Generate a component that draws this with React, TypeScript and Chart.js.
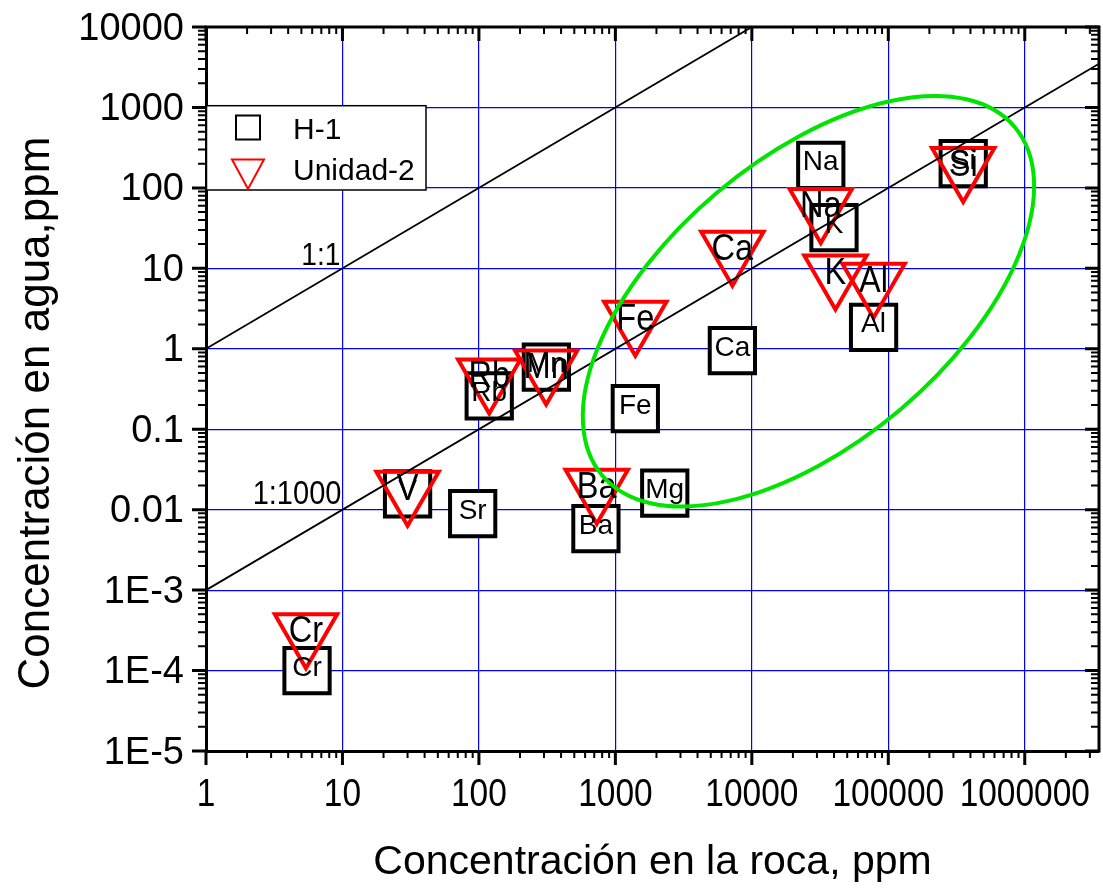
import React, { useEffect, useRef } from 'react';
import { Chart, registerables } from 'chart.js';

Chart.register(...registerables);

// ---------------- data ----------------
const elementsH1 = ['Cr', 'V', 'Sr', 'Rb', 'Mn', 'Ba', 'Fe', 'Mg', 'Ca', 'Na', 'K', 'Al', 'Si'];
const rockH1 = [5.5, 30, 90, 119, 312, 720, 1400, 2300, 7200, 32000, 40000, 78000, 354000];
const waterH1 = [1e-4, 0.0157, 0.0089, 0.26, 0.59, 0.0058, 0.18, 0.016, 0.95, 190, 32, 1.84, 200];

const elementsU2 = ['Cr', 'V', 'Rb', 'Mn', 'Ba', 'Fe', 'Ca', 'Na', 'K', 'Al', 'Si'];
const rockU2 = [5.4, 30, 119, 311, 730, 1400, 7200, 32000, 41000, 78000, 354000];
const waterU2 = [3.0e-4, 0.0177, 0.44, 0.57, 0.0187, 2.3, 17, 58, 8.6, 6.8, 187];

const line11X = [1, 10000];
const line11Y = [1, 10000];
const line1000X = [1, 3.5e6];
const line1000Y = [0.001, 3500];

const X_MIN = 1;
const X_MAX = 3.5e6;
const Y_MIN = 1e-5;
const Y_MAX = 1e4;

const xTickLabels = ['1', '10', '100', '1000', '10000', '100000', '1000000'];
const yTickLabels = ['1E-5', '1E-4', '1E-3', '0.01', '0.1', '1', '10', '100', '1000', '10000'];

const xTitle = 'Concentración en la roca, ppm';
const yTitle = 'Concentración en agua,ppm';
const lineLabels = ['1:1', '1:1000'];

const ellipseCenter = { x: 26000, y: 3.9 };

// ---------------- helpers ----------------
const FAMILY = '"Liberation Sans", Arial, sans-serif';
const font = (s: number) => `${s}px ${FAMILY}`;

function isPow10(v: any): boolean {
  if (v == null || !(v > 0)) return false;
  const e = Math.round(Math.log10(v));
  return Math.abs(v / Math.pow(10, e) - 1) < 1e-6;
}

function buildLogTicks(min: number, max: number): number[] {
  const out: number[] = [];
  const e0 = Math.floor(Math.log10(min));
  const e1 = Math.ceil(Math.log10(max));
  for (let e = e0; e <= e1; e++) {
    for (let k = 1; k <= 9; k++) {
      const v = e < 0 ? k / Math.pow(10, -e) : k * Math.pow(10, e);
      if (v >= min * (1 - 1e-9) && v <= max * (1 + 1e-9)) out.push(v);
    }
  }
  return out;
}

function labelFor(v: number, labels: string[], min: number): string {
  if (!isPow10(v)) return '';
  const idx = Math.round(Math.log10(v) - Math.log10(min));
  return labels[idx] ?? '';
}

function drawText(ctx: CanvasRenderingContext2D, text: string, x: number, y: number, size: number, squish: number, align: CanvasTextAlign) {
  ctx.save();
  ctx.translate(x, y);
  ctx.scale(squish, 1);
  ctx.font = font(size);
  ctx.textAlign = align;
  ctx.textBaseline = 'alphabetic';
  ctx.fillStyle = '#000';
  ctx.fillText(text, 0, 0);
  ctx.restore();
}

const decorPlugin = {
  id: 'decor',
  afterDatasetsDraw(chart: any) {
    const ctx: CanvasRenderingContext2D = chart.ctx;
    const xs = chart.scales.x;
    const ys = chart.scales.y;
    const ca = chart.chartArea;

    // point labels (squares first, triangles on top)
    [0, 1].forEach((di) => {
      const ds = chart.data.datasets[di];
      ds.data.forEach((p: any, i: number) => {
        const px = xs.getPixelForValue(p.x);
        const py = ys.getPixelForValue(p.y);
        drawText(ctx, ds.elementLabels[i], px, py + ds.labelDy, ds.labelSize, ds.labelSquish, 'center');
      });
    });

    // line labels
    const x10 = xs.getPixelForValue(10);
    drawText(ctx, lineLabels[0], x10 - 2, ys.getPixelForValue(10) - 3, 32, 0.88, 'right');
    drawText(ctx, lineLabels[1], x10 - 1, ys.getPixelForValue(0.01) - 6, 33, 0.88, 'right');

    // green ellipse
    ctx.save();
    ctx.beginPath();
    ctx.rect(ca.left, ca.top, ca.right - ca.left, ca.bottom - ca.top);
    ctx.clip();
    ctx.beginPath();
    ctx.ellipse(xs.getPixelForValue(ellipseCenter.x), ys.getPixelForValue(ellipseCenter.y), 270, 142, -40.2 * Math.PI / 180, 0, Math.PI * 2);
    ctx.strokeStyle = 'rgb(0,228,0)';
    ctx.lineWidth = 4;
    ctx.stroke();
    ctx.restore();
  },
  afterDraw(chart: any) {
    const ctx: CanvasRenderingContext2D = chart.ctx;
    const xs = chart.scales.x;
    const ys = chart.scales.y;
    const ca = chart.chartArea;
    ctx.save();
    ctx.strokeStyle = '#000';
    ctx.lineCap = 'butt';

    // top and right borders
    ctx.lineWidth = 3;
    ctx.beginPath();
    ctx.moveTo(ca.left - 1.5, ca.top);
    ctx.lineTo(ca.right + 1.5, ca.top);
    ctx.moveTo(ca.right, ca.top);
    ctx.lineTo(ca.right, ca.bottom + 1.5);
    ctx.stroke();

    // tick marks
    xs.ticks.forEach((t: any) => {
      const px = xs.getPixelForValue(t.value);
      const major = isPow10(t.value);
      const len = major ? 14 : 7;
      ctx.lineWidth = major ? 3 : 2;
      ctx.beginPath();
      ctx.moveTo(px, ca.bottom);
      ctx.lineTo(px, ca.bottom + len);
      ctx.moveTo(px, ca.top);
      ctx.lineTo(px, ca.top + len);
      ctx.stroke();
    });
    ys.ticks.forEach((t: any) => {
      const py = ys.getPixelForValue(t.value);
      const major = isPow10(t.value);
      const len = major ? 14 : 8;
      ctx.lineWidth = major ? 3 : 2;
      ctx.beginPath();
      ctx.moveTo(ca.left, py);
      ctx.lineTo(ca.left - len, py);
      ctx.moveTo(ca.right, py);
      ctx.lineTo(ca.right - len, py);
      ctx.stroke();
    });
    ctx.restore();

    // tick labels, placed by the scales
    xs.ticks.forEach((t: any) => {
      const lab = labelFor(t.value, xTickLabels, X_MIN);
      if (lab) drawText(ctx, lab, xs.getPixelForValue(t.value), ca.bottom + 55, 38, 0.88, 'center');
    });
    ys.ticks.forEach((t: any) => {
      const lab = labelFor(t.value, yTickLabels, Y_MIN);
      if (lab) drawText(ctx, lab, ca.left - 22, ys.getPixelForValue(t.value) + 12.5, 38, 1, 'right');
    });

    // axis titles
    drawText(ctx, xTitle, (ca.left + ca.right) / 2, 874, 41, 1, 'center');
    ctx.save();
    ctx.translate(48.5, (ca.top + ca.bottom) / 2 + 24);
    ctx.rotate(-Math.PI / 2);
    ctx.font = font(44);
    ctx.textAlign = 'center';
    ctx.textBaseline = 'alphabetic';
    ctx.fillStyle = '#000';
    ctx.fillText(yTitle, 0, 0);
    ctx.restore();

    // legend
    const lx = ca.left + 0.5, ly = 105.7, lw = 219.5, lh = 84.3;
    ctx.save();
    ctx.fillStyle = '#fff';
    ctx.fillRect(lx, ly, lw, lh);
    ctx.strokeStyle = '#000';
    ctx.lineWidth = 1.5;
    ctx.strokeRect(lx, ly, lw, lh);
    ctx.lineWidth = 2;
    ctx.strokeStyle = '#000';
    ctx.strokeRect(236, 115.5, 24, 24);
    ctx.strokeStyle = '#ff0000';
    ctx.beginPath();
    ctx.moveTo(232, 159.5);
    ctx.lineTo(264, 159.5);
    ctx.lineTo(248, 189);
    ctx.closePath();
    ctx.stroke();
    ctx.restore();
    drawText(ctx, chart.data.datasets[0].label, 293, 139, 30, 1, 'left');
    drawText(ctx, chart.data.datasets[1].label, 293, 180, 30, 1, 'left');
  },
};

export default function App() {
  const canvasRef = useRef<HTMLCanvasElement | null>(null);

  useEffect(() => {
    if (!canvasRef.current) return;
    const xTickValues = buildLogTicks(X_MIN, X_MAX);
    const yTickValues = buildLogTicks(Y_MIN, Y_MAX);

    const chart = new Chart(canvasRef.current, {
      type: 'scatter',
      data: {
        datasets: [
          {
            label: 'H-1',
            data: rockH1.map((x, i) => ({ x, y: waterH1[i] })),
            pointStyle: 'rect',
            pointRadius: 32,
            pointHoverRadius: 32,
            borderColor: '#000',
            backgroundColor: '#fff',
            borderWidth: 4,
            order: 4,
            elementLabels: elementsH1,
            labelSize: 28,
            labelSquish: 1,
            labelDy: 5,
          } as any,
          {
            label: 'Unidad-2',
            data: rockU2.map((x, i) => ({ x, y: waterU2[i] })),
            pointStyle: 'triangle',
            rotation: 180,
            pointRadius: 36,
            pointHoverRadius: 36,
            borderColor: '#ff0000',
            backgroundColor: 'rgba(0,0,0,0)',
            borderWidth: 4,
            order: 3,
            elementLabels: elementsU2,
            labelSize: 37,
            labelSquish: 0.88,
            labelDy: 10,
          } as any,
          {
            label: '1:1',
            data: line11X.map((x, i) => ({ x, y: line11Y[i] })),
            showLine: true,
            pointRadius: 0,
            borderColor: '#000',
            borderWidth: 1.8,
            fill: false,
            order: 2,
          } as any,
          {
            label: '1:1000',
            data: line1000X.map((x, i) => ({ x, y: line1000Y[i] })),
            showLine: true,
            pointRadius: 0,
            borderColor: '#000',
            borderWidth: 1.8,
            fill: false,
            order: 1,
          } as any,
        ],
      },
      options: {
        animation: false,
        responsive: false,
        events: [],
        layout: { autoPadding: false, padding: { top: 27, right: 4, left: 0, bottom: 0 } },
        plugins: {
          legend: { display: false },
          tooltip: { enabled: false },
        },
        scales: {
          x: {
            type: 'logarithmic',
            position: 'bottom',
            min: X_MIN,
            max: X_MAX,
            afterBuildTicks: (s: any) => {
              s.ticks = xTickValues.map((v) => ({ value: v }));
            },
            afterFit: (s: any) => {
              s.height = 137;
            },
            grid: {
              color: (c: any) => (c.tick && isPow10(c.tick.value) ? '#0000ff' : 'rgba(0,0,0,0)'),
              lineWidth: 1.2,
              drawTicks: false,
            },
            border: { display: true, color: '#000', width: 3 },
            ticks: { display: false, autoSkip: false },
          },
          y: {
            type: 'logarithmic',
            position: 'left',
            min: Y_MIN,
            max: Y_MAX,
            afterBuildTicks: (s: any) => {
              s.ticks = yTickValues.map((v) => ({ value: v }));
            },
            afterFit: (s: any) => {
              s.width = 206;
            },
            grid: {
              color: (c: any) => (c.tick && isPow10(c.tick.value) ? '#0000ff' : 'rgba(0,0,0,0)'),
              lineWidth: 1.2,
              drawTicks: false,
            },
            border: { display: true, color: '#000', width: 3 },
            ticks: { display: false, autoSkip: false },
          },
        },
      } as any,
      plugins: [decorPlugin as any],
    });
    return () => chart.destroy();
  }, []);

  return (
    <div style={{ position: 'absolute', left: 0, top: 0, width: 1103, height: 888, background: '#fff' }}>
      <canvas ref={canvasRef} width={1103} height={888} style={{ display: 'block', width: 1103, height: 888 }} />
    </div>
  );
}
